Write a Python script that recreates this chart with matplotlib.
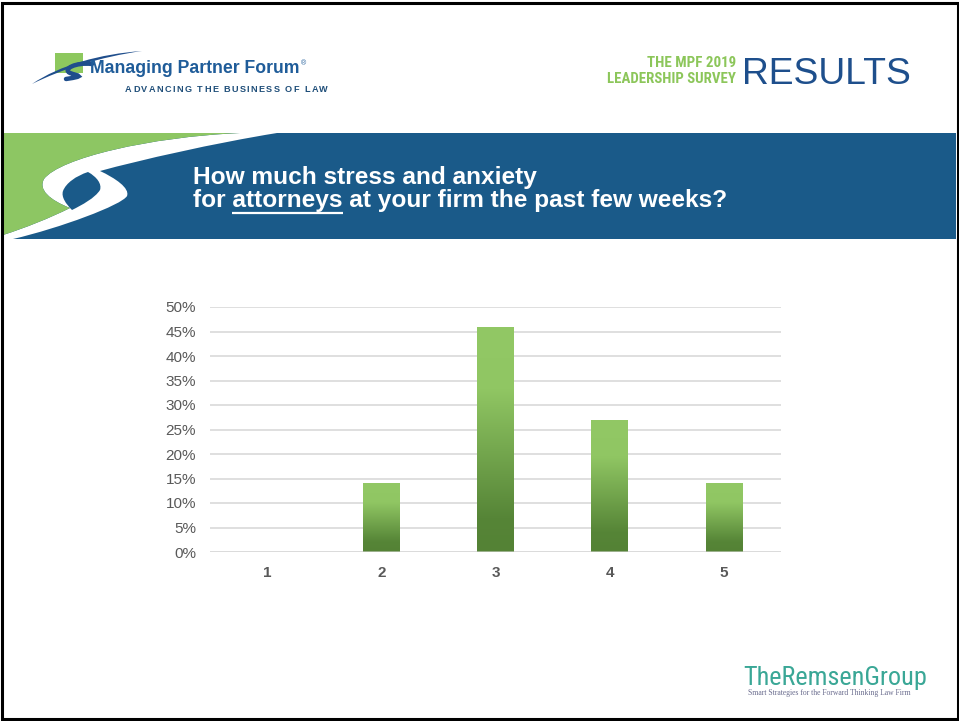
import numpy as np
import matplotlib
matplotlib.use("Agg")
import matplotlib.pyplot as plt
from matplotlib import font_manager as fm
from matplotlib.patches import Rectangle, PathPatch
from matplotlib.path import Path
from matplotlib.colors import LinearSegmentedColormap
from matplotlib.ticker import PercentFormatter

# ---- data -------------------------------------------------------------
categories = ["1", "2", "3", "4", "5"]
shares = [0.00, 0.14, 0.46, 0.27, 0.14]
y_ticks = [0.00, 0.05, 0.10, 0.15, 0.20, 0.25, 0.30, 0.35, 0.40, 0.45, 0.50]
title_lines = ["How much stress and anxiety",
               "for attorneys at your firm the past few weeks?"]
underlined_word = "attorneys"

# ---- fonts & colours --------------------------------------------------
installed = {f.name for f in fm.fontManager.ttflist}
SANS = "Liberation Sans" if "Liberation Sans" in installed else "DejaVu Sans"
NARROW = next((n for n in ["Liberation Sans Narrow", "Roboto Condensed",
                           "Open Sans Condensed"] if n in installed), SANS)
SERIF = "Liberation Serif" if "Liberation Serif" in installed else "DejaVu Serif"

BLUE = "#1A5A89"
GREEN = "#8DC663"
NAVY = "#1F5C99"
GRAY = "#595959"

W, H = 959, 721
fig = plt.figure(figsize=(W / 100, H / 100), dpi=100)
renderer = fig.canvas.get_renderer()

# decoration layer in pixel coordinates (y grows downward)
deco = fig.add_axes([0, 0, 1, 1], zorder=0)
deco.set_xlim(0, W)
deco.set_ylim(H, 0)
deco.axis("off")


def fit_text(x, y, s, width, size0=10, **kw):
    """Place text and scale its size so it spans the given pixel width."""
    t = deco.text(x, y, s, fontsize=size0, **kw)
    w = t.get_window_extent(renderer).width
    t.set_fontsize(size0 * width / w)
    return t


def spaced_text(x0, y, s, width, size, **kw):
    """Letter-spaced caption spread over the given pixel width."""
    widths = []
    for ch in s:
        if ch == " ":
            widths.append(0.278 * size * 100 / 72)
        else:
            t = deco.text(0, 0, ch, fontsize=size, **kw)
            widths.append(t.get_window_extent(renderer).width)
            t.remove()
    gap = (width - sum(widths)) / (len(s) - 1)
    x = x0
    for ch, w in zip(s, widths):
        if ch != " ":
            deco.text(x, y, ch, fontsize=size, ha="left", va="baseline", **kw)
        x += w + gap


M, L, C, Z = Path.MOVETO, Path.LINETO, Path.CURVE4, Path.CLOSEPOLY

# ---- page frame -------------------------------------------------------
deco.add_patch(Rectangle((1.5, 2.5), 956, 716.5, fill=False, ec="black",
                         lw=2.2, zorder=10))

# ---- banner -----------------------------------------------------------
deco.add_patch(Rectangle((3, 133), 953, 106, color=BLUE, lw=0, zorder=1))

white_pts = [(240, 133), (277, 133),
             (215, 143), (140, 160), (100, 171),
             (115, 178), (130, 188), (127, 196),
             (122, 205), (60, 228), (13, 239),
             (3, 239), (3, 235),
             (25, 228), (50, 218), (70, 208),
             (50, 200), (38, 190), (44, 179),
             (60, 158), (150, 137), (240, 133),
             (240, 133)]
white_codes = [M, L, C, C, C, C, C, C, C, C, C, L, L, C, C, C, C, C, C, C, C, C, Z]
deco.add_patch(PathPatch(Path(white_pts, white_codes), fc="white", ec="none", zorder=2))

green_pts = [(3, 133), (240, 133),
             (150, 137), (60, 158), (44, 179),
             (38, 190), (50, 200), (70, 208),
             (50, 218), (25, 228), (3, 235),
             (3, 133)]
green_codes = [M, L, C, C, C, C, C, C, C, C, C, Z]
deco.add_patch(PathPatch(Path(green_pts, green_codes), fc=GREEN, ec="none", zorder=2))

hole_pts = [(88, 172),
            (97, 177), (102, 184), (100, 190),
            (95, 198), (82, 205), (72, 210),
            (66, 204), (61, 197), (63, 191),
            (66, 183), (76, 176), (88, 172),
            (88, 172)]
hole_codes = [M, C, C, C, C, C, C, C, C, C, C, C, C, Z]
deco.add_patch(PathPatch(Path(hole_pts, hole_codes), fc=BLUE, ec="none", zorder=3))

# title
title_kw = dict(color="white", fontweight="bold", family=SANS,
                ha="left", va="baseline", zorder=5)
t2 = fit_text(193, 207, title_lines[1], 534, size0=16, **title_kw)
tsize = t2.get_fontsize()
deco.text(193, 184, title_lines[0], fontsize=tsize, **title_kw)

# underline below the highlighted word
probe_a = deco.text(0, 0, "for " + underlined_word, fontsize=tsize,
                    fontweight="bold", family=SANS)
probe_b = deco.text(0, 0, underlined_word, fontsize=tsize,
                    fontweight="bold", family=SANS)
wa = probe_a.get_window_extent(renderer).width
wb = probe_b.get_window_extent(renderer).width
probe_a.remove()
probe_b.remove()
u0 = 193 + wa - wb
deco.plot([u0, u0 + wb], [213, 213], color="white", lw=1.6,
          solid_capstyle="butt", zorder=5)

# ---- header: forum mark ----------------------------------------------
deco.add_patch(Rectangle((55, 53), 28, 20, color="#8DC85E", lw=0, zorder=2))
swoosh_pts = [(32, 84), (60, 65), (100, 54), (142, 51),
              (100, 57), (62, 69), (32, 84), (32, 84)]
deco.add_patch(PathPatch(Path(swoosh_pts, [M, C, C, C, C, C, C, Z]),
                         fc="#1F4E8C", ec="none", zorder=3))
s_pts = [(92, 64), (76, 62), (62, 69), (70, 73),
         (78, 76), (86, 76), (66, 79)]
deco.add_patch(PathPatch(Path(s_pts, [M, C, C, C, C, C, C]), fc="none",
                         ec="#1F4E8C", lw=3.2, capstyle="round", zorder=3))
fit_text(90, 73, "Managing Partner Forum", 208, size0=11, color=NAVY,
         fontweight="bold", family=SANS, ha="left", va="baseline", zorder=4)
deco.text(301, 65, "®", fontsize=5, color=NAVY, family=SANS,
          ha="left", va="baseline")
spaced_text(125, 92, "ADVANCING THE BUSINESS OF LAW", 203, 6.6,
            color="#1F4E79", fontweight="bold", family=SANS)

# ---- header: survey mark ---------------------------------------------
fit_text(736, 67, "THE MPF 2019", 89, size0=11, color="#8CC65A",
         fontweight="bold", family=NARROW, ha="right", va="baseline")
fit_text(736, 83, "LEADERSHIP SURVEY", 129, size0=11, color="#8CC65A",
         fontweight="bold", family=NARROW, ha="right", va="baseline")
fit_text(742, 84, "RESULTS", 169, size0=28, color="#1E4F8C",
         family=SANS, ha="left", va="baseline")

# ---- footer mark -------------------------------------------------------
fit_text(743, 685, "TheRemsenGroup", 184, size0=20, color="#3AA796",
         family=NARROW, ha="left", va="baseline")
fit_text(748, 695, "Smart Strategies for the Forward Thinking Law Firm", 165,
         size0=6, color="#6A6C8E", family=SERIF, ha="left", va="baseline")

# ---- chart -------------------------------------------------------------
ax = fig.add_axes([210 / W, 1 - 552 / H, 571 / W, 245 / H], zorder=1)
ax.patch.set_alpha(0)

xpos = np.arange(1, len(categories) + 1)
bars = ax.bar(xpos, shares, width=0.32, color="none", edgecolor="none", zorder=2)

fade = LinearSegmentedColormap.from_list(
    "barfade", [(0.0, "#548235"), (0.15, "#568537"),
                (0.72, "#90C663"), (1.0, "#92C865")])
grad = np.linspace(0, 1, 256).reshape(-1, 1)
for b in bars:
    h = b.get_height()
    if h <= 0:
        continue
    im = ax.imshow(grad, extent=[b.get_x(), b.get_x() + b.get_width(), 0, h],
                   origin="lower", aspect="auto", cmap=fade, zorder=2,
                   interpolation="bilinear")
    im.set_clip_path(b)

ax.set_xlim(0.5, len(categories) + 0.5)
ax.set_ylim(0, 0.5)
ax.set_xticks(xpos)
ax.set_xticklabels(categories)
ax.set_yticks(y_ticks)
ax.yaxis.set_major_formatter(PercentFormatter(xmax=1, decimals=0))
ax.grid(axis="y", color="#D9D9D9", lw=1.2, zorder=0)
ax.set_axisbelow(True)
ax.axhline(0, color="#D9D9D9", lw=1.4, alpha=0.55, zorder=3)
for sp in ax.spines.values():
    sp.set_visible(False)
ax.tick_params(axis="both", length=0, colors=GRAY, labelsize=11)
ax.tick_params(axis="y", pad=10)
ax.tick_params(axis="x", pad=10)
for lab in ax.get_yticklabels():
    lab.set_family(SANS)
for lab in ax.get_xticklabels():
    lab.set_family(SANS)
    lab.set_fontweight("bold")

fig.savefig("out.png", dpi=100)
